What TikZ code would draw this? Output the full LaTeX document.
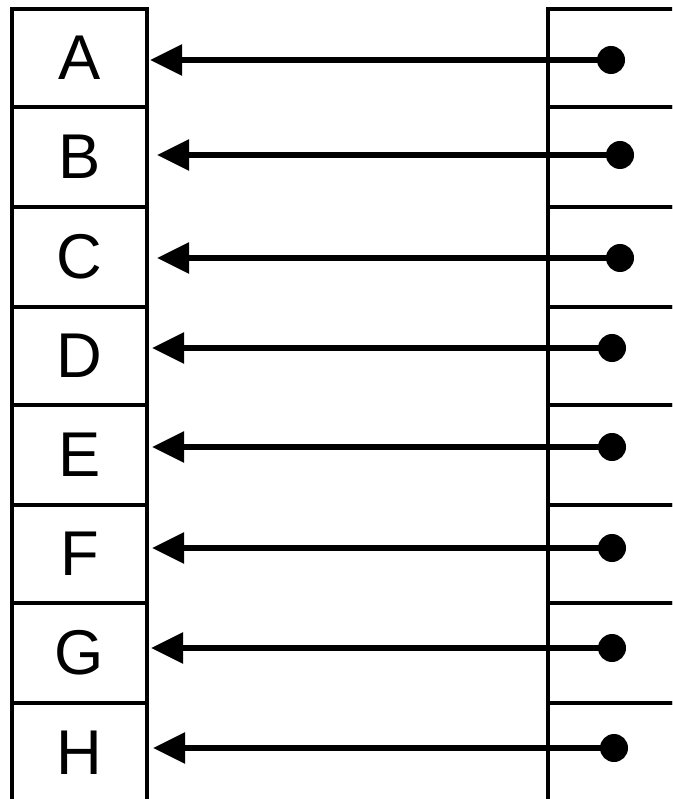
\documentclass[tikz,border=0pt]{standalone}
\usepackage{fontspec}
\setmainfont{Liberation Sans}
\usetikzlibrary{arrows.meta}
\tikzset{
  % style for the cells of the left column
  cell/.style={draw=black, line width=2.5pt, inner sep=0pt, outer sep=0pt,
    minimum width=3.375cm, font=\fontsize{45}{50}\selectfont},
  % style for the cells of the right column
  slot/.style={draw=black, line width=2.5pt, inner sep=0pt, outer sep=0pt,
    minimum width=4.3cm},
  % start of a pointer
  dot/.style={circle, fill=black, inner sep=0pt, minimum size=0.7cm},
  % pointer with a filled head
  pointer/.style={line width=4.2pt, -{Triangle[length=0.8cm, width=0.75cm]}},
}
\begin{document}
\begin{tikzpicture}[x=0.025cm, y=-0.025cm]
\clip (0,0) rectangle (672,799);
\foreach \n/\top/\bot/\y/\tip/\dx in {A/9/107/60/150/611, B/107/207/155/157/620,
    C/207/307/258/157/620, D/307/405/348/152/612, E/405/505/447/152/612,
    F/505/603/548/152/612, G/603/703/648/151/612, H/703/803/748/153/614}{
  \node[cell, minimum height={(\bot-\top)*0.025cm}] (l\n) at (79.5,{(\top+\bot)/2}) {\n};
  \node[slot, minimum height={(\bot-\top)*0.025cm}] (r\n) at (634,{(\top+\bot)/2}) {};
  % the pointer from right to left
  \node[dot] (d\n) at (\dx,\y) {};
  \coordinate (t\n) at (\tip,\y);
  \draw[pointer] (d\n.center) -- (t\n);
}
\end{tikzpicture}
\end{document}
